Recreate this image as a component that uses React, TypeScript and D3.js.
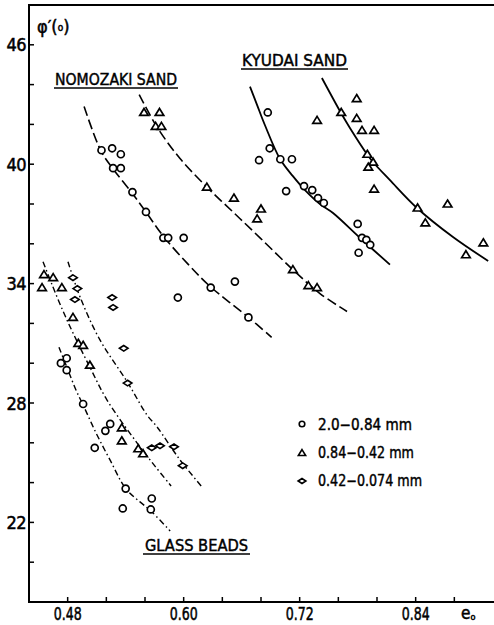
import React from "react";
import * as d3 from "d3";

type Pt = [number, number];

// e0 (void ratio), phi' (deg)
const nomoCircles: Pt[] = [
  [0.515, 40.7], [0.526, 40.8], [0.535, 40.5], [0.527, 39.8], [0.535, 39.8],
  [0.547, 38.6], [0.561, 37.6], [0.579, 36.3], [0.584, 36.3], [0.600, 36.3],
  [0.594, 33.3], [0.628, 33.8], [0.653, 34.1], [0.667, 32.3],
];
const nomoTriangles: Pt[] = [
  [0.559, 42.6], [0.575, 42.6], [0.571, 41.9], [0.577, 41.9], [0.624, 38.85],
  [0.652, 38.3], [0.680, 37.75], [0.676, 37.25], [0.713, 34.7], [0.729, 33.9],
  [0.738, 33.8],
];
const kyuCircles: Pt[] = [
  [0.687, 42.6], [0.689, 40.8], [0.678, 40.2], [0.700, 40.25], [0.712, 40.25],
  [0.706, 38.65], [0.7245, 38.9], [0.733, 38.7], [0.739, 38.3], [0.745, 38.05],
  [0.780, 37.0], [0.7845, 36.3], [0.789, 36.2], [0.793, 35.95], [0.781, 35.55],
];
const kyuTriangles: Pt[] = [
  [0.738, 42.2], [0.763, 42.6], [0.779, 43.3], [0.779, 42.3], [0.7845, 41.7],
  [0.797, 41.7], [0.790, 40.5], [0.796, 40.1], [0.791, 39.85], [0.797, 38.75],
  [0.842, 37.8], [0.873, 38.0], [0.850, 37.05], [0.892, 35.45], [0.910, 36.05],
];
const glassCircles: Pt[] = [
  [0.473, 30.0], [0.479, 30.25], [0.479, 29.65], [0.496, 27.95], [0.519, 26.6],
  [0.524, 26.95], [0.508, 25.75], [0.540, 23.7], [0.537, 22.7], [0.567, 23.2],
  [0.566, 22.65],
];
const glassTriangles: Pt[] = [
  [0.4555, 34.45], [0.465, 34.3], [0.4535, 33.8], [0.474, 33.8], [0.4855, 32.3],
  [0.491, 31.0], [0.496, 30.9], [0.503, 29.9], [0.536, 26.75], [0.536, 26.1],
  [0.553, 25.7], [0.558, 25.45],
];
const glassDiamonds: Pt[] = [
  [0.4855, 34.3], [0.490, 33.75], [0.4875, 33.2], [0.526, 33.3], [0.527, 32.8],
  [0.538, 30.75], [0.542, 29.0], [0.567, 25.75], [0.5755, 25.85], [0.590, 25.8],
  [0.599, 24.85],
];

// fitted curves
const nomoCircleFit: Pt[] = [
  [0.497, 42.9], [0.5145, 40.66], [0.528, 39.7], [0.5466, 38.55], [0.561, 37.6],
  [0.5786, 36.4], [0.6045, 34.98], [0.628, 33.83], [0.6666, 32.32], [0.691, 31.3],
];
const nomoTriFit: Pt[] = [
  [0.554, 43.5], [0.5724, 41.87], [0.596, 40.3], [0.624, 38.85], [0.651, 37.6],
  [0.679, 36.3], [0.713, 34.7], [0.741, 33.5], [0.769, 32.6],
];
const kyuCircleFit: Pt[] = [
  [0.6686, 43.9], [0.676, 42.97], [0.684, 41.97], [0.6997, 40.26], [0.713, 39.4],
  [0.7255, 38.7], [0.741, 38.0], [0.7545, 37.55], [0.7824, 36.3], [0.8134, 34.95],
];
const kyuTriFit: Pt[] = [
  [0.743, 44.33], [0.7628, 42.57], [0.772, 41.82], [0.7897, 40.5], [0.796, 40.1],
  [0.8134, 39.2], [0.8414, 37.8], [0.8786, 36.34], [0.915, 35.14],
];
const glassCircleFit: Pt[] = [
  [0.471, 30.8], [0.4803, 29.66], [0.4886, 28.65], [0.496, 27.9], [0.5093, 26.5],
  [0.5238, 25.14], [0.5403, 23.68], [0.5548, 23.03], [0.5662, 22.57], [0.586, 21.57],
];
const glassTriFit: Pt[] = [
  [0.4545, 35.1], [0.4648, 33.83], [0.4752, 32.62], [0.4855, 31.52], [0.503, 29.8],
  [0.5207, 28.15], [0.5517, 26.0], [0.5703, 24.83], [0.587, 23.83],
];
const glassDiaFit: Pt[] = [
  [0.4803, 35.1], [0.4928, 33.33], [0.5134, 31.17], [0.5424, 29.0], [0.562, 27.4],
  [0.5724, 26.8], [0.5962, 25.14], [0.619, 23.78],
];

const xMinorTicks = d3.range(0.48, 0.885, 0.04);
const xTickLabels = [0.48, 0.6, 0.72, 0.84];
const yMinorTicks = d3.range(20, 47, 2);
const yTickLabels = [22, 28, 34, 40, 46];
const legendLabels = ["2.0\u22120.84  mm", "0.84\u22120.42  mm", "0.42\u22120.074  mm"];

const W = 494, H = 625;
const font = "'DejaVu Sans Condensed', 'DejaVu Sans', sans-serif";

export default function App() {
  const x = d3.scaleLinear().domain([0.44, 0.92]).range([29, 493]);
  const y = d3.scaleLinear().domain([18, 48]).range([602, 5]);
  const line = d3.line<Pt>().x(d => x(d[0])).y(d => y(d[1])).curve(d3.curveCatmullRom);

  const circle = (p: Pt, i: number) => (
    <circle key={i} cx={x(p[0])} cy={y(p[1])} r={3.5} fill="white" stroke="black" strokeWidth={1.7} />
  );
  const tri = (cx: number, cy: number, s = 1) =>
    `M${cx},${cy - 4 * s}L${cx + 4.3 * s},${cy + 3 * s}L${cx - 4.3 * s},${cy + 3 * s}Z`;
  const dia = (cx: number, cy: number, s = 1) =>
    `M${cx - 4.3 * s},${cy}L${cx},${cy - 2.8 * s}L${cx + 4.3 * s},${cy}L${cx},${cy + 2.8 * s}Z`;
  const triangle = (p: Pt, i: number) => (
    <path key={i} d={tri(x(p[0]), y(p[1]))} fill="white" stroke="black" strokeWidth={1.7} />
  );
  const diamond = (p: Pt, i: number) => (
    <path key={i} d={dia(x(p[0]), y(p[1]))} fill="white" stroke="black" strokeWidth={1.6} />
  );

  const dashed = "10 4";
  const dashDot = "6 3 1.5 3";

  return (
    <svg width={W} height={H} style={{ position: "absolute", left: 0, top: 0, background: "white" }}
      fontFamily={font}>
      {/* frame */}
      <line x1={29} x2={W} y1={5} y2={5} stroke="black" strokeWidth={2} />
      <line x1={29} x2={29} y1={4} y2={603} stroke="black" strokeWidth={2} />
      <line x1={28} x2={W} y1={602} y2={602} stroke="black" strokeWidth={2} />

      {yMinorTicks.map(v => (
        <line key={v} x1={29} x2={34} y1={y(v)} y2={y(v)} stroke="black" strokeWidth={1.5} />
      ))}
      <g stroke="black" strokeWidth={0.5}>
        {yTickLabels.map(v => (
          <text key={v} x={26} y={y(v) + 6.5} fontSize={18} textAnchor="end" letterSpacing={-0.5}>{v}</text>
        ))}
        {xTickLabels.map(v => (
          <text key={v} x={x(v)} y={620} fontSize={18} textAnchor="middle"
            textLength={28} lengthAdjust="spacingAndGlyphs">{v.toFixed(2)}</text>
        ))}
        <text x={461} y={619} fontSize={17}>e<tspan fontSize={9} dy={1}>o</tspan></text>
        <text x={37} y={33} fontSize={18}>
          {"\u03c6\u2032("}<tspan fontSize={10} dy={-2}>o</tspan><tspan dy={2}>)</tspan>
        </text>
      </g>
      {xMinorTicks.map(v => (
        <line key={v} x1={x(v)} x2={x(v)} y1={602} y2={597} stroke="black" strokeWidth={1.5} />
      ))}

      {/* fitted curves */}
      <g fill="none" stroke="black">
        <path d={line(nomoCircleFit) ?? ""} strokeWidth={1.6} strokeDasharray={dashed} />
        <path d={line(nomoTriFit) ?? ""} strokeWidth={1.6} strokeDasharray={dashed} />
        <path d={line(kyuCircleFit) ?? ""} strokeWidth={1.8} />
        <path d={line(kyuTriFit) ?? ""} strokeWidth={1.8} />
        <path d={line(glassCircleFit) ?? ""} strokeWidth={1.4} strokeDasharray={dashDot} />
        <path d={line(glassTriFit) ?? ""} strokeWidth={1.4} strokeDasharray={dashDot} />
        <path d={line(glassDiaFit) ?? ""} strokeWidth={1.4} strokeDasharray={dashDot} />
      </g>

      {/* data */}
      <g>{nomoCircles.map(circle)}</g>
      <g>{nomoTriangles.map(triangle)}</g>
      <g>{kyuCircles.map(circle)}</g>
      <g>{kyuTriangles.map(triangle)}</g>
      <g>{glassCircles.map(circle)}</g>
      <g>{glassTriangles.map(triangle)}</g>
      <g>{glassDiamonds.map(diamond)}</g>

      {/* group labels */}
      <g stroke="black" strokeWidth={0.4}>
        <text x={55} y={85} fontSize={15} textLength={122} lengthAdjust="spacingAndGlyphs">NOMOZAKI SAND</text>
        <text x={242} y={66} fontSize={15} textLength={105} lengthAdjust="spacingAndGlyphs">KYUDAI SAND</text>
        <text x={145} y={551} fontSize={15} textLength={103} lengthAdjust="spacingAndGlyphs">GLASS BEADS</text>
        {legendLabels.map((t, i) => (
          <text key={t} x={318} y={430 + i * 28} fontSize={15}
            textLength={[94, 96, 104][i]} lengthAdjust="spacingAndGlyphs">{t}</text>
        ))}
      </g>
      <line x1={54} x2={178} y1={88} y2={88} stroke="black" strokeWidth={1.6} />
      <line x1={241} x2={348} y1={69} y2={69} stroke="black" strokeWidth={1.6} />
      <line x1={143} x2={250} y1={554} y2={554} stroke="black" strokeWidth={1.6} />

      {/* legend */}
      <circle cx={302} cy={424} r={2.8} fill="white" stroke="black" strokeWidth={1.6} />
      <path d={tri(302, 453, 0.85)} fill="white" stroke="black" strokeWidth={1.6} />
      <path d={dia(302, 481, 0.9)} fill="white" stroke="black" strokeWidth={1.6} />
    </svg>
  );
}
